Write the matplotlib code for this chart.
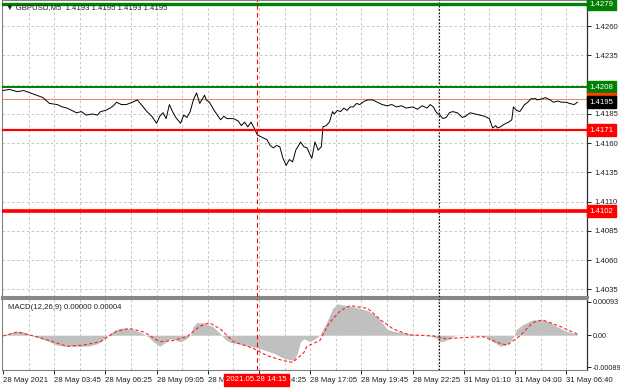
import matplotlib.pyplot as plt
from matplotlib.transforms import blended_transform_factory

plt.rcParams["font.family"] = ["Liberation Sans", "DejaVu Sans"]

# close prices, sampled along the bar axis (M5 bars)
price_bars = [0, 4, 9, 13, 17, 21, 25, 29, 34, 37, 40, 43, 46, 49, 52, 56, 59, 61, 64, 67,
              69, 71, 74, 77, 81, 84, 87, 90, 93, 96, 98, 100, 102, 104, 106, 108, 111, 113, 115, 117,
              119, 121, 123, 126, 127, 129, 132, 136, 138, 140, 144, 147, 149, 151, 153, 155, 157, 159, 162, 165,
              167, 169, 171, 173, 175, 177, 179, 181, 183, 186, 188, 190, 192, 193, 195, 197, 199, 200, 202, 204,
              206, 207, 209, 211, 213, 215, 217, 219, 221, 223, 226, 228, 231, 234, 237, 240, 243, 246, 249, 252,
              256, 259, 262, 265, 267, 269, 271, 273, 275, 277, 279, 281, 284, 287, 289, 292, 295, 298, 301, 304,
              306, 308, 309, 311, 313, 316, 318, 319, 321, 323, 326, 328, 330, 333, 334, 337, 339, 342, 344, 347,
              349, 352, 354, 357, 359]
price_vals = [1.4205, 1.4206, 1.4204, 1.4205, 1.4203, 1.4201, 1.4199, 1.4194, 1.4193, 1.4191,
              1.4190, 1.4188, 1.4186, 1.4187, 1.4184, 1.4185, 1.4184, 1.4187, 1.4188, 1.4190,
              1.4192, 1.4195, 1.4193, 1.4193, 1.4195, 1.4197, 1.4192, 1.4187, 1.4183, 1.4177,
              1.4183, 1.4186, 1.4181, 1.4193, 1.4187, 1.4182, 1.4177, 1.4184, 1.4182, 1.4187,
              1.4197, 1.4203, 1.4194, 1.4201, 1.4197, 1.4195, 1.4188, 1.4180, 1.4183, 1.4181,
              1.4181, 1.4179, 1.4175, 1.4178, 1.4174, 1.4178, 1.4173, 1.4167, 1.4165, 1.4163,
              1.4158, 1.4156, 1.4158, 1.4157, 1.4147, 1.4141, 1.4146, 1.4144, 1.4154, 1.4161,
              1.4157, 1.4156, 1.4150, 1.4147, 1.4161, 1.4154, 1.4157, 1.4174, 1.4175, 1.4178,
              1.4187, 1.4185, 1.4188, 1.4187, 1.4190, 1.4188, 1.4191, 1.4191, 1.4194, 1.4193,
              1.4196, 1.4197, 1.4197, 1.4195, 1.4193, 1.4192, 1.4193, 1.4191, 1.4192, 1.4190,
              1.4191, 1.4189, 1.4192, 1.4190, 1.4193, 1.4191, 1.4186, 1.4184, 1.4181, 1.4182,
              1.4186, 1.4187, 1.4186, 1.4182, 1.4183, 1.4186, 1.4185, 1.4184, 1.4183, 1.4181,
              1.4173, 1.4175, 1.4173, 1.4174, 1.4176, 1.4178, 1.4180, 1.4191, 1.4188, 1.4187,
              1.4193, 1.4195, 1.4198, 1.4198, 1.4197, 1.4198, 1.4199, 1.4197, 1.4195, 1.4196,
              1.4195, 1.4195, 1.4194, 1.4193, 1.4195]

# MACD histogram (main line) and signal, in units of 1e-5
hist_bars = [0, 4, 9, 11, 15, 17, 23, 29, 34, 40, 48, 54, 59, 61, 64, 67, 71, 74, 77, 81,
             86, 90, 94, 98, 101, 104, 106, 109, 111, 114, 117, 119, 121, 125, 128, 131, 134, 136, 139, 142,
             148, 154, 161, 165, 170, 175, 179, 182, 184, 186, 188, 192, 195, 198, 201, 203, 206, 209, 212, 219,
             228, 234, 237, 240, 244, 248, 254, 259, 267, 270, 273, 276, 279, 282, 286, 292, 300, 303, 306, 311,
             314, 317, 319, 321, 325, 331, 337, 342, 346, 352, 359]
hist_vals = [0, 6, 11, 11, 6, 0, -8, -18, -28, -31, -31, -30, -24, -18, -6, 6, 16, 20, 20, 16,
             8, -2, -18, -31, -22, -12, -10, -16, -18, -12, 0, 25, 35, 35, 30, 25, 12, 3, -12, -20,
             -25, -30, -38, -44, -52, -64, -68, -70, -50, -18, -10, -18, -10, 0, 25, 43, 75, 88, 85, 80,
             69, 51, 35, 17, 11, 9, 4, 1, -2, -6, -18, -16, -10, -2, 1, -1, -2, -6, -18, -31,
             -28, -18, -5, 17, 30, 43, 43, 35, 25, 11, 3]
signal_bars = [0, 9, 19, 29, 40, 50, 61, 71, 79, 88, 98, 106, 115, 123, 129, 136, 144, 156, 165, 175,
               181, 186, 188, 190, 198, 204, 211, 217, 228, 236, 244, 254, 269, 277, 286, 300, 311, 315, 323, 331,
               337, 348, 359]
signal_vals = [-2, 9, -2, -15, -31, -28, -18, 11, 19, 9, -18, -15, -4, 25, 35, 17, -18, -36, -57, -71,
               -76, -57, -49, -31, -15, 35, 69, 83, 75, 43, 17, 1, -2, -10, -7, -4, -23, -28, -2, 35,
               43, 25, 3]

levels_green = [1.4279, 1.4208]
levels_red = [1.4171, 1.4102]
ask = 1.41975
bid = 1.4195

price_ticks = [1.4260, 1.4235, 1.4210, 1.4185, 1.4160, 1.4135, 1.4110, 1.4085, 1.4060, 1.4035]
macd_max, macd_min = 0.00093, -0.00089
time_ticks = list(range(0, 353, 32))
time_labels = ["28 May 2021", "28 May 03:45", "28 May 06:25", "28 May 09:05", "28 May 11:45",
               "28 May 14:25", "28 May 17:05", "28 May 19:45", "28 May 22:25", "31 May 01:10",
               "31 May 04:00", "31 May 06:40"]

W, H = 620, 388
fig = plt.figure(figsize=(6.2, 3.88), dpi=100)
ax1 = fig.add_axes([2 / W, 1 - 297 / H, 585 / W, 297 / H])
ax2 = fig.add_axes([2 / W, 1 - 370 / H, 585 / W, 71 / H])

fs = 5.6
grid_kw = dict(color="#c4c4c4", linestyle=(0, (2.5, 2.5)), linewidth=0.7)

for ax in (ax1, ax2):
    ax.set_xlim(-0.6, 365)
    ax.set_facecolor("white")
    for v in range(16, 365, 16):
        ax.axvline(v, zorder=0, **grid_kw)
    for s in ("left", "top", "bottom"):
        ax.spines[s].set_color("#808080")
    ax.spines["right"].set_color("#303030")
    ax.spines["right"].set_linewidth(0.9)
    ax.yaxis.tick_right()
    ax.tick_params(axis="y", labelsize=fs, length=3, width=0.7, pad=2, colors="#202020")
    # session marker lines
    ax.axvline(158.5, color="red", linestyle=(0, (4, 3)), linewidth=0.8, zorder=3)
    ax.axvline(272.5, color="black", linestyle=(0, (1.5, 1.5)), linewidth=0.8, zorder=3)

# ---- main price panel ----
ax1.set_ylim(1.4279 - 293 / 11695, 1.4279 + 4 / 11695)
ax1.set_yticks(price_ticks)
ax1.set_yticklabels(["" if t == 1.4210 else f"{t:.4f}" for t in price_ticks])
for t in price_ticks:
    ax1.axhline(t, zorder=0, **grid_kw)
ax1.set_xticks([])
ax1.spines["bottom"].set_color("#888888")
ax1.spines["bottom"].set_linewidth(2.2)

ax1.axhline(ask, color="#f08060", linewidth=0.7, zorder=2)
ax1.plot(price_bars, price_vals, color="black", linewidth=0.7, zorder=4)
ax1.axhline(levels_green[0], color="#008000", linewidth=2.4, zorder=5)
ax1.axhline(levels_green[1], color="#008000", linewidth=1.4, zorder=5)
ax1.axhline(levels_red[0], color="#ff0000", linewidth=1.6, zorder=5)
ax1.axhline(levels_red[1], color="#ff0000", linewidth=2.6, zorder=5)

tr = blended_transform_factory(ax1.transAxes, ax1.transData)
boxes = [(levels_green[0], "#008000"), (levels_green[1], "#008000"), (ask, "#ff4000"),
         (bid, "black"), (levels_red[0], "#ff0000"), (levels_red[1], "#ff0000")]
for val, col in boxes:
    ax1.text(1.004, val, f"{val:.4f}", transform=tr, fontsize=fs, color="white",
             va="center", ha="left", clip_on=False, zorder=10,
             bbox=dict(boxstyle="square,pad=0.3", fc=col, ec=col))

fig.text(6 / W, 1 - 8 / H, "\u25bc GBPUSD,M5  1.4193 1.4195 1.4193 1.4195",
         fontsize=fs, color="#202020", va="center", ha="left")

# ---- MACD panel ----
scale = 1e-5
# max label sits 3 px below the top, min label 3 px above the bottom
ppu = 65 / (macd_max - macd_min)
ax2.set_ylim(macd_min - 3 / ppu, macd_max + 3 / ppu)
ax2.fill_between(hist_bars, [v * scale for v in hist_vals], 0, color="#c0c0c0",
                 linewidth=0, zorder=1)
ax2.plot(signal_bars, [v * scale for v in signal_vals], color="#ff2020",
         linestyle=(0, (3, 2)), linewidth=0.8, zorder=4)
ax2.set_yticks([macd_max, 0.0, macd_min])
ax2.set_yticklabels([f"{macd_max:.5f}", "0.00", f"{macd_min:.5f}"])
ax2.tick_params(axis="y", labelsize=5.2, pad=1)
ax2.spines["top"].set_color("#888888")
ax2.spines["top"].set_linewidth(1.5)
ax2.text(6 / 585, 0.88, "MACD(12,26,9) 0.00000 0.00004", transform=ax2.transAxes,
         fontsize=fs, color="#202020", va="center", ha="left")

ax2.set_xticks(time_ticks)
ax2.set_xticklabels(time_labels, ha="left")
ax2.tick_params(axis="x", labelsize=fs, length=3, width=0.7, pad=2, colors="#202020")

ax2.text(158.5, -0.14, "2021.05.28 14:15", transform=blended_transform_factory(ax2.transData, ax2.transAxes),
         fontsize=fs, color="white", ha="center", va="center", clip_on=False, zorder=10,
         bbox=dict(boxstyle="square,pad=0.3", fc="#ff0000", ec="#ff0000"))

fig.savefig("out.png", dpi=100, facecolor="white")
